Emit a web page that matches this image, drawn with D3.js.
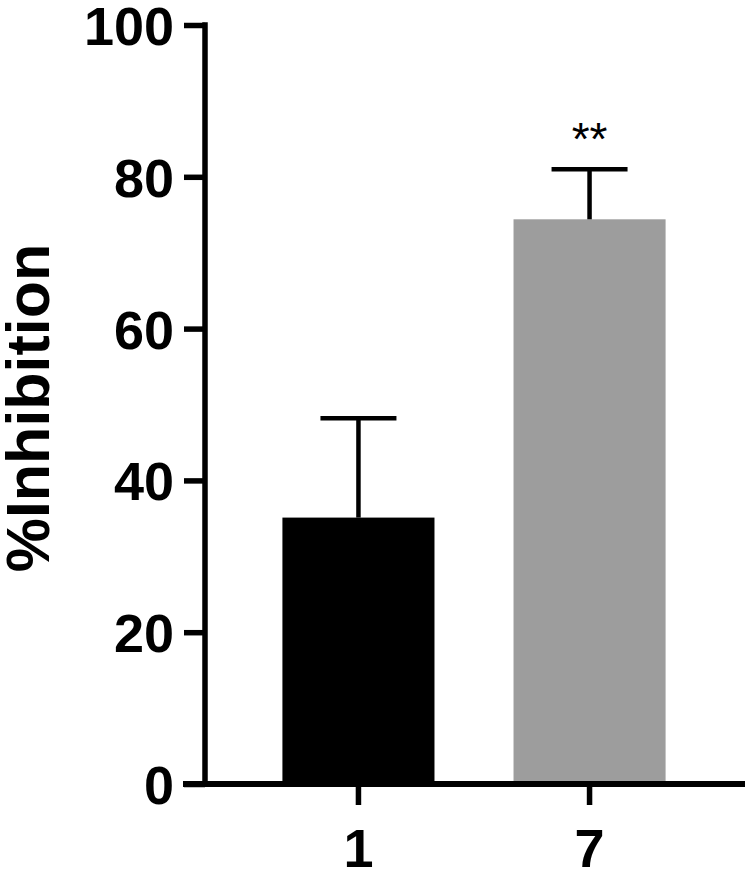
<!DOCTYPE html>
<html>
<head>
<meta charset="utf-8">
<script src="https://cdn.jsdelivr.net/npm/d3@7"></script>
<style>
  body { margin: 0; background: #fff; }
  text { font-family: "Liberation Sans", Arial, sans-serif; }
</style>
</head>
<body>
<script>
// data
var groups = ['1', '7'];
var means = [35.1, 74.4];
var errTop = [48.2, 81.0];
var barColors = ['#000000', '#9d9d9d'];
var sigLabels = ['', '**'];
var yTicks = [0, 20, 40, 60, 80, 100];

var width = 750, height = 870;

var svg = d3.select('body').append('svg')
            .attr('width', width)
            .attr('height', height);

// scales
var yScale = d3.scaleLinear().domain([0, 100]).range([784, 25]);
var xScale = d3.scaleBand().domain(groups)
               .range([205, 743])
               .paddingInner(0.342)
               .paddingOuter(0.335);

var axisX0 = 205;

// bars
svg.selectAll('.bar')
   .data(groups)
   .enter()
   .append('rect')
   .attr('class', 'bar')
   .attr('x', function(d) { return xScale(d); })
   .attr('y', function(d, i) { return yScale(means[i]); })
   .attr('width', xScale.bandwidth())
   .attr('height', function(d, i) { return yScale(0) - yScale(means[i]); })
   .attr('fill', function(d, i) { return barColors[i]; });

// error bars (upper only)
var capW = 76;
var errs = svg.selectAll('.err')
   .data(groups)
   .enter()
   .append('g')
   .attr('class', 'err')
   .attr('stroke', '#000')
   .attr('stroke-width', 4.5);

errs.append('line')
    .attr('x1', function(d) { return xScale(d) + xScale.bandwidth() / 2; })
    .attr('x2', function(d) { return xScale(d) + xScale.bandwidth() / 2; })
    .attr('y1', function(d, i) { return yScale(means[i]); })
    .attr('y2', function(d, i) { return yScale(errTop[i]); });

errs.append('line')
    .attr('x1', function(d) { return xScale(d) + xScale.bandwidth() / 2 - capW / 2; })
    .attr('x2', function(d) { return xScale(d) + xScale.bandwidth() / 2 + capW / 2; })
    .attr('y1', function(d, i) { return yScale(errTop[i]); })
    .attr('y2', function(d, i) { return yScale(errTop[i]); });

// significance stars
svg.selectAll('.sig')
   .data(groups)
   .enter()
   .append('text')
   .attr('class', 'sig')
   .attr('x', function(d) { return xScale(d) + xScale.bandwidth() / 2; })
   .attr('y', function(d, i) { return yScale(errTop[i]) - 14; })
   .attr('text-anchor', 'middle')
   .attr('font-size', 46)
   .attr('fill', '#000')
   .text(function(d, i) { return sigLabels[i]; });

// y axis
var yAxis = d3.axisLeft(yScale)
              .tickValues(yTicks)
              .tickSize(21)
              .tickSizeOuter(0)
              .tickPadding(10);

var gY = svg.append('g')
            .attr('transform', 'translate(' + axisX0 + ',0)')
            .call(yAxis);
gY.select('.domain').remove();
gY.selectAll('.tick line').attr('stroke', '#000').attr('stroke-width', 5.5);
gY.selectAll('.tick text')
  .attr('font-size', 54)
  .attr('font-weight', 'bold')
  .attr('fill', '#000')
  .attr('dy', '0.36em')
  .attr('font-family', '"Liberation Sans", Arial, sans-serif');

gY.append('line')
  .attr('x1', 0).attr('x2', 0)
  .attr('y1', yScale(100) - 2.75)
  .attr('y2', yScale(0))
  .attr('stroke', '#000')
  .attr('stroke-width', 5.5);

// x axis
var xAxis = d3.axisBottom(xScale)
              .tickSize(21)
              .tickSizeOuter(0)
              .tickPadding(24);

var gX = svg.append('g')
            .attr('transform', 'translate(0,' + yScale(0) + ')')
            .call(xAxis);
gX.select('.domain').remove();
gX.selectAll('.tick line').attr('stroke', '#000').attr('stroke-width', 5.5);
gX.selectAll('.tick text')
  .attr('font-size', 54)
  .attr('font-weight', 'bold')
  .attr('fill', '#000')
  .attr('font-family', '"Liberation Sans", Arial, sans-serif');

gX.append('line')
  .attr('x1', 183).attr('x2', 745)
  .attr('y1', 0).attr('y2', 0)
  .attr('stroke', '#000')
  .attr('stroke-width', 6);

// y title
svg.append('text')
   .attr('text-anchor', 'middle')
   .attr('transform', 'translate(49,408)rotate(-90)')
   .attr('font-size', 61)
   .attr('font-weight', 'bold')
   .attr('fill', '#000')
   .text('%Inhibition');
</script>
</body>
</html>
